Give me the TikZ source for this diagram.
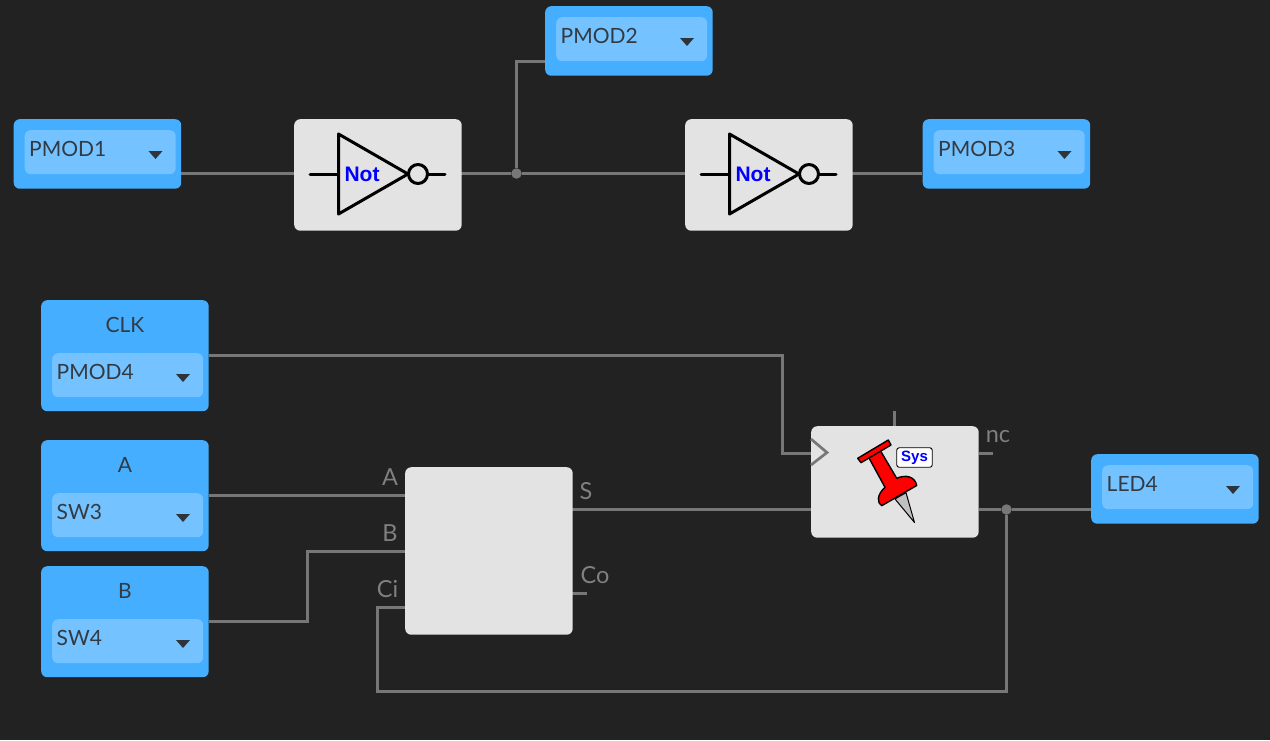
\documentclass[tikz,border=0pt]{standalone}
\usepackage{fontspec}
\setmainfont{Lato}
\newfontfamily\gatefont{Liberation Sans}
\definecolor{bgc}{HTML}{222222}
\definecolor{bluec}{HTML}{46AEFF}
\definecolor{innerc}{HTML}{74C2FF}
\definecolor{wirec}{HTML}{777777}
\definecolor{gatec}{HTML}{E3E3E3}
\definecolor{labelc}{HTML}{808080}
\definecolor{textc}{HTML}{333A42}
\tikzset{
 wire/.style={draw=wirec,line width=2.7pt,line join=miter},
 dotnode/.style={circle,fill=wirec,inner sep=0pt,minimum size=10.5pt},
 iobox/.style={fill=bluec,rounded corners=6pt,inner sep=0pt,anchor=north west},
 innerbox/.style={fill=innerc,rounded corners=6pt,inner sep=0pt,anchor=north west,minimum width=151pt,minimum height=44pt},
 valtext/.style={text=textc,font=\fontsize{21}{24}\selectfont,anchor=west,inner sep=0pt},
 titletext/.style={text=textc,font=\fontsize{21}{24}\selectfont,inner sep=0pt},
 gatebox/.style={fill=gatec,rounded corners=6pt,inner sep=0pt,anchor=north west},
 pinlabel/.style={text=labelc,font=\fontsize{23.5}{26}\selectfont,inner sep=0pt},
 sym/.style={draw=black,line width=3pt,line join=round,line cap=round},
 nottext/.style={text=blue,font=\gatefont\bfseries\fontsize{21}{24}\selectfont,inner sep=0pt},
}
% name, x, y, value: single-row port
\newcommand{\portsmall}[4]{%
 \node[iobox,minimum width=167.5pt,minimum height=69.5pt] (#1) at (#2,#3) {};
 \begin{scope}[shift={(#2,#3)}]
  \node[innerbox] (#1in) at (11,11) {};
  \node[valtext] (#1val) at (15.5,30) {#4};
  \fill[textc!90!black] (135,32) -- (149,32) -- (142,40) -- cycle;
 \end{scope}}
% name, x, y, title, value: two-row port
\newcommand{\portbig}[5]{%
 \node[iobox,minimum width=167.5pt,minimum height=111pt] (#1) at (#2,#3) {};
 \begin{scope}[shift={(#2,#3)}]
  \node[titletext] (#1tt) at (84,25) {#4};
  \node[innerbox] (#1in) at (11,53) {};
  \node[valtext] (#1val) at (15.5,72) {#5};
  \fill[textc!90!black] (135,74) -- (149,74) -- (142,82) -- cycle;
 \end{scope}}
% name, x, y: inverter gate
\newcommand{\notgate}[3]{%
 \node[gatebox,minimum width=167.5pt,minimum height=111.5pt] (#1) at (#2,#3) {};
 \begin{scope}[shift={(#2,#3)}]
  \draw[sym] (16,55) -- (44.5,55);
  \draw[sym] (44.5,15) -- (44.5,95) -- (114,55) -- cycle;
  \draw[sym] (124,55) circle (9.5);
  \draw[sym] (134,55) -- (151,55);
  \node[nottext] (#1t) at (68,55.5) {Not};
 \end{scope}}
\begin{document}
\begin{tikzpicture}[x=1pt,y=-1pt]
\useasboundingbox (0,0) rectangle (1270,740);
\fill[bgc] (0,0) rectangle (1270,740);

% connection points
\coordinate (p1o) at (181,173.5);
\coordinate (n1i) at (294,173.5);
\coordinate (n1o) at (461,173.5);
\coordinate (n2i) at (685,173.5);
\coordinate (n2o) at (852,173.5);
\coordinate (p3i) at (922,173.5);
\coordinate (p2i) at (545,61.5);
\coordinate (clko) at (209,355.5);
\coordinate (ffc) at (811,453.5);
\coordinate (ao) at (209,495.5);
\coordinate (bo) at (209,621.5);
\coordinate (fa) at (405,495.5);
\coordinate (fb) at (405,551.5);
\coordinate (fci) at (405,607.5);
\coordinate (fs) at (572,509.5);
\coordinate (fco) at (572,593.5);
\coordinate (fcoe) at (587,593.5);
\coordinate (ffd) at (811,509.5);
\coordinate (ffq) at (979,509.5);
\coordinate (ffnc) at (979,453.5);
\coordinate (ffnce) at (993,453.5);
\coordinate (fft) at (894.5,426);
\coordinate (fftt) at (894.5,411);
\coordinate (ledi) at (1091,509.5);

% wires
\node[dotnode] (j1) at (516.5,173.5) {};
\node[dotnode] (j2) at (1006.5,509.5) {};
\draw[wire] (p1o) -- (n1i);
\draw[wire] (n1o) -- (j1) -- (n2i);
\draw[wire] (j1) |- (p2i);
\draw[wire] (n2o) -- (p3i);
\draw[wire] (clko) -| (782.5,453.5) -- (ffc);
\draw[wire] (ao) -- (fa);
\draw[wire] (bo) -| (307.5,551.5) -- (fb);
\draw[wire] (fci) -| (377.5,691.5) -| (j2);
\draw[wire] (fs) -- (ffd);
\draw[wire] (fco) -- (fcoe);
\draw[wire] (ffq) -- (j2) -- (ledi);
\draw[wire] (ffnc) -- (ffnce);
\draw[wire] (fft) -- (fftt);

% ports
\portsmall{pmodone}{13.5}{119}{PMOD1}
\portsmall{pmodtwo}{545}{6}{PMOD2}
\portsmall{pmodthree}{922.5}{119}{PMOD3}
\portsmall{ledfour}{1091}{454}{LED4}
\portbig{clkp}{41}{300}{CLK}{PMOD4}
\portbig{ap}{41}{440}{A}{SW3}
\portbig{bp}{41}{566}{B}{SW4}

% gates
\notgate{notone}{294}{119}
\notgate{nottwo}{685}{119}

% adder
\node[gatebox,minimum width=167.5pt,minimum height=167.5pt] (adder) at (405,467) {};
\node[pinlabel] (la) at (390,477) {A};
\node[pinlabel] (lb) at (390,533) {B};
\node[pinlabel] (lci) at (387.5,589) {Ci};
\node[pinlabel] (ls) at (586,491) {S};
\node[pinlabel] (lco) at (595,575) {Co};

% flip-flop with pin
\node[gatebox,minimum width=167.5pt,minimum height=111.5pt] (ff) at (811,426) {};
\node[pinlabel] (lnc) at (998,437) {nc};
\draw[draw=wirec,line width=2.7pt,line join=miter] (811,439) -- (827,452.5) -- (811,465);
% needle
\draw[draw=black,fill=gatec!85!black,line width=1pt,line join=round]
  (895,499) -- (906,492.7) -- (914.5,522.5) -- cycle;
% pin body
\draw[draw=black,fill=red,line width=1.4pt,line join=round]
  (868.3,456.7) -- (880,450) -- (896.7,478.3)
  .. controls (905,474.5) and (915,476) .. (916.7,485.5)
  -- (881.7,505.7)
  .. controls (877,503) and (876.5,495) .. (885,487.3) -- cycle;
% crossbar
\draw[draw=black,fill=red,line width=1.4pt,line join=round]
  (857.7,458.3) -- (888.3,440) -- (891,445) -- (861,462.7) -- cycle;
% Sys tag
\node[draw=black,fill=white,rounded corners=2.5pt,line width=0.9pt,inner sep=0pt,
      minimum width=35.5pt,minimum height=19.5pt,
      font=\gatefont\bfseries\fontsize{15}{16}\selectfont,text=blue] (sys) at (914.5,457.5) {\raisebox{-1pt}{Sys}};
\end{tikzpicture}
\end{document}
